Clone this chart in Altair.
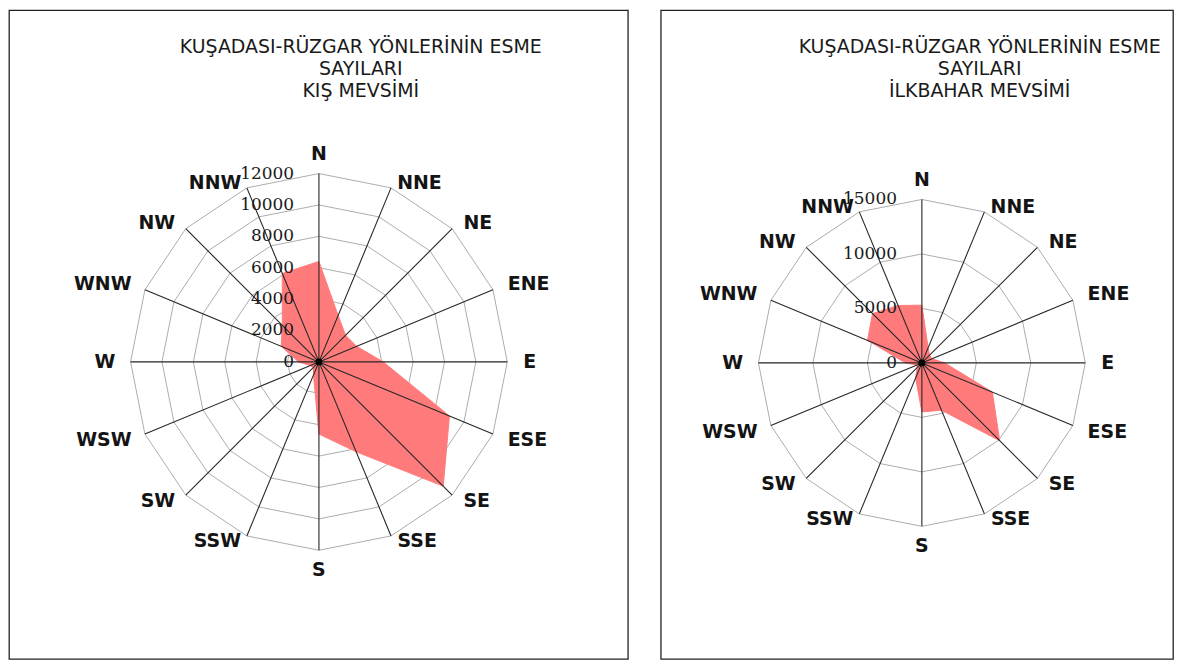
import altair as alt
import pandas as pd

# ---------------- data ----------------
directions = ["N", "NNE", "NE", "ENE", "E", "ESE", "SE", "SSE",
              "S", "SSW", "SW", "WSW", "W", "WNW", "NW", "NNW"]
winter_counts = [6400, 3200, 2400, 2600, 4100, 9000, 11200, 6200,
                 4600, 900, 500, 600, 1300, 2600, 3300, 6100]
spring_counts = [5300, 1500, 1000, 1000, 2100, 7000, 10100, 4700,
                 4500, 1500, 600, 500, 1500, 5400, 6400, 5700]
winter_ticks = [0, 2000, 4000, 6000, 8000, 10000, 12000]
spring_ticks = [0, 5000, 10000, 15000]
winter_title = ["KUŞADASI-RÜZGAR YÖNLERİNİN ESME", "SAYILARI", "KIŞ MEVSİMİ"]
spring_title = ["KUŞADASI-RÜZGAR YÖNLERİNİN ESME", "SAYILARI", "İLKBAHAR MEVSİMİ"]

# ---------------- style ----------------
FILL = "#ff7b7b"
LAB_SIZE = 19
N_DIR = len(directions)
ANG = "datum.i * 2 * PI / %d" % N_DIR
CHAR_EM = {"N": 0.838, "E": 0.683, "S": 0.720, "W": 1.030}


def radar(values, ticks, title_lines, width, height, cx, cy, radius_px, title_x):
    vmax = ticks[-1]
    k = vmax / radius_px
    xdom = [-cx * k, (width - cx) * k]
    ydom = [-(height - cy) * k, cy * k]
    X = lambda f: alt.X(f, type="quantitative",
                        scale=alt.Scale(domain=xdom, nice=False, zero=False), axis=None)
    Y = lambda f: alt.Y(f, type="quantitative",
                        scale=alt.Scale(domain=ydom, nice=False, zero=False), axis=None)

    poly = pd.DataFrame({"i": list(range(N_DIR)) + [0],
                         "value": list(values) + [values[0]],
                         "o": list(range(N_DIR + 1))})
    rows = []
    for t in ticks[1:]:
        for j in range(N_DIR + 1):
            rows.append({"ring": t, "i": j % N_DIR, "o": j})
    rings = pd.DataFrame(rows)
    spokes = pd.DataFrame({"i": list(range(N_DIR)), "value": [vmax] * N_DIR})
    labels = pd.DataFrame({
        "i": list(range(N_DIR)), "dir": directions,
        "hw": [0.5 * LAB_SIZE * sum(CHAR_EM[ch] for ch in d) for d in directions]})
    tickdf = pd.DataFrame({"t": ticks, "lab": [str(t) for t in ticks]})

    ring_layer = alt.Chart(rings).transform_calculate(
        x="datum.ring * sin(%s)" % ANG
    ).transform_calculate(
        y="datum.ring * cos(%s)" % ANG
    ).mark_line(color="#adadad", strokeWidth=1).encode(
        x=X("x"), y=Y("y"), detail="ring:N", order=alt.Order("o:Q"))

    poly_layer = alt.Chart(poly).transform_calculate(
        x="datum.value * sin(%s)" % ANG
    ).transform_calculate(
        y="datum.value * cos(%s)" % ANG
    ).mark_line(fill=FILL, stroke=FILL, strokeWidth=1).encode(
        x=X("x"), y=Y("y"), order=alt.Order("o:Q"))

    spoke_layer = alt.Chart(spokes).transform_calculate(
        x="datum.value * sin(%s)" % ANG
    ).transform_calculate(
        y="datum.value * cos(%s)" % ANG
    ).transform_calculate(z="0").mark_rule(color="#262626", strokeWidth=1.1).encode(
        x=X("z"), y=Y("z"), x2="x:Q", y2="y:Q")

    dot_layer = alt.Chart(pd.DataFrame({"z": [0]})).mark_point(
        filled=True, color="black", size=45, opacity=1).encode(x=X("z"), y=Y("z"))

    tick_layer = alt.Chart(tickdf).transform_calculate(z="0").mark_text(
        align="right", baseline="middle", dx=-25, font="DejaVu Serif",
        fontSize=17, color="#1a1a1a").encode(x=X("z"), y=Y("t"), text="lab:N")

    rx = radius_px + 16
    ry = radius_px - 2
    lab_layer = alt.Chart(labels).transform_calculate(
        s="sin(%s)" % ANG
    ).transform_calculate(
        c="cos(%s)" % ANG
    ).transform_calculate(
        sx="datum.s > 0.01 ? 1 : (datum.s < -0.01 ? -1 : 0)"
    ).transform_calculate(
        sy="datum.c > 0.01 ? 1 : (datum.c < -0.01 ? -1 : 0)"
    ).transform_calculate(
        x="%f * (%f * datum.s + datum.hw * datum.sx)" % (k, rx)
    ).transform_calculate(
        y="%f * ((%f + (datum.sx == 0 ? 15 : 0)) * datum.c + 7 * datum.sy)" % (k, ry)
    ).mark_text(font="DejaVu Sans", fontWeight="bold", fontSize=LAB_SIZE,
                color="#141414", baseline="middle", align="center").encode(
        x=X("x"), y=Y("y"), text="dir:N")

    title_layer = alt.Chart(pd.DataFrame({"a": [0]})).mark_text(
        text=title_lines, font="DejaVu Sans", fontSize=19, lineHeight=22,
        align="center", baseline="alphabetic", color="#1a1a1a").encode(
        x=alt.value(title_x), y=alt.value(43))

    return alt.layer(ring_layer, poly_layer, spoke_layer, dot_layer,
                     tick_layer, lab_layer, title_layer).properties(
        width=width, height=height)


left = radar(winter_counts, winter_ticks, winter_title,
             width=621, height=651, cx=311, cy=353, radius_px=189, title_x=353)
right = radar(spring_counts, spring_ticks, spring_title,
              width=514, height=651, cx=262, cy=354, radius_px=164, title_x=320)

chart = alt.hconcat(left, right, spacing=31).resolve_scale(
    x="independent", y="independent"
).properties(padding=0, background="white").configure_view(
    stroke="#222222", strokeWidth=1.3
)

chart.save("out.html", embed_options={"renderer": "svg", "actions": False})
